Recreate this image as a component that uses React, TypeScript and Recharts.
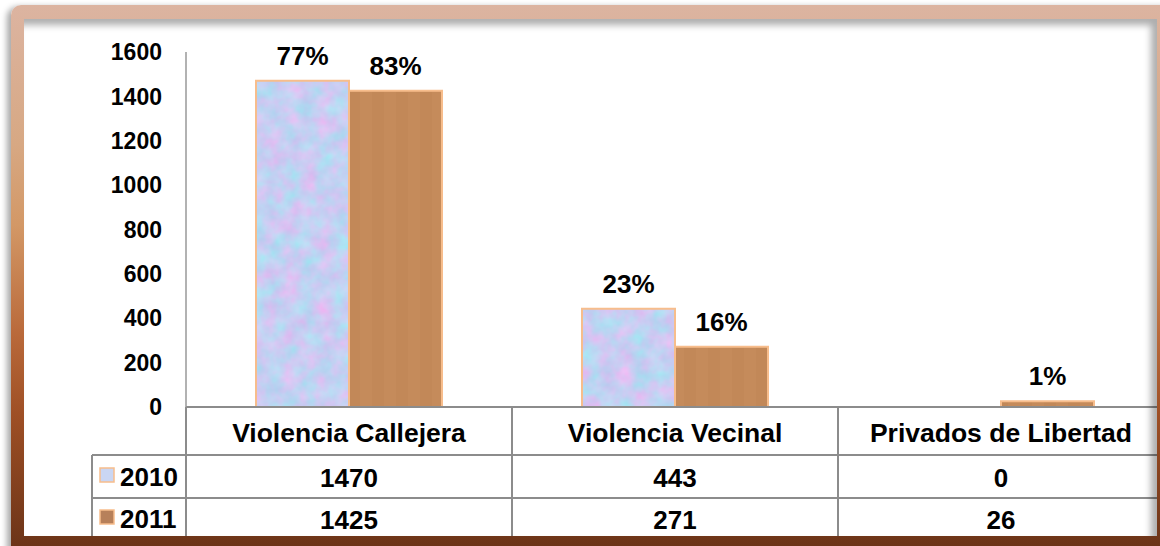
import React from "react";
import { BarChart, Bar, XAxis, YAxis, LabelList } from "recharts";

const categories = ["Violencia Callejera", "Violencia Vecinal", "Privados de Libertad"];
const values2010 = [1470, 443, 0];
const values2011 = [1425, 271, 26];
const pct2010 = ["77%", "23%", ""];
const pct2011 = ["83%", "16%", "1%"];
const years = ["2010", "2011"];
const yTicks = [0, 200, 400, 600, 800, 1000, 1200, 1400, 1600];

const data = categories.map((name, i) => ({
  name,
  v2010: values2010[i],
  v2011: values2011[i],
  p2010: pct2010[i],
  p2011: pct2011[i],
}));

const CHART_W = 1170;
const CHART_H = 546;
const MARGIN = { top: 52, right: 6, left: 106, bottom: 9 };
const Y_W = 80;
const X_H = 130;
const BAND = (CHART_W - MARGIN.left - MARGIN.right - Y_W) / categories.length;

const FONT = '"Liberation Sans", Arial, sans-serif';
const GRID = "#8c8c8c";
const EDGE = "#f7bd8c";
const BROWN = "#c58b5b";

const txt = {
  fontFamily: FONT,
  fontWeight: 700,
  fill: "#000",
} as const;

function TableTick(props: any) {
  const { x, y, index } = props;
  const i = index as number;
  const left = x - BAND / 2;
  const right = x + BAND / 2;
  const rows = [values2010[i], values2011[i]];
  return (
    <g>
      <line x1={left} x2={left} y1={y} y2={y + 140} stroke={GRID} strokeWidth={2} />
      {i === categories.length - 1 && (
        <line x1={right} x2={right} y1={y} y2={y + 140} stroke={GRID} strokeWidth={2} />
      )}
      <line x1={left} x2={right} y1={y + 48} y2={y + 48} stroke={GRID} strokeWidth={2} />
      <line x1={left} x2={right} y1={y + 91} y2={y + 91} stroke={GRID} strokeWidth={2} />
      <text {...txt} x={x} y={y + 26} fontSize={26.5} textAnchor="middle" dominantBaseline="central">
        {categories[i]}
      </text>
      {rows.map((v, r) => (
        <text key={r} {...txt} x={x} y={y + 71 + r * 42} fontSize={26} textAnchor="middle" dominantBaseline="central">
          {v}
        </text>
      ))}
      {i === 0 && (
        <g>
          <line x1={92} x2={92} y1={y + 48} y2={y + 140} stroke={GRID} strokeWidth={2} />
          <line x1={92} x2={left} y1={y + 48} y2={y + 48} stroke={GRID} strokeWidth={2} />
          <line x1={92} x2={left} y1={y + 91} y2={y + 91} stroke={GRID} strokeWidth={2} />
          {years.map((yr, r) => (
            <g key={yr}>
              <rect
                x={100}
                y={y + 61 + r * 42}
                width={14}
                height={14}
                fill={r === 0 ? "#cad6f3" : "#b7805a"}
                stroke={EDGE}
                strokeWidth={1.5}
              />
              <text {...txt} x={120} y={y + 70 + r * 42} fontSize={26} dominantBaseline="central">
                {yr}
              </text>
            </g>
          ))}
        </g>
      )}
    </g>
  );
}

export default function App() {
  return (
    <div
      style={{
        position: "fixed",
        left: 0,
        top: 0,
        width: 1160,
        height: 546,
        background: "#fff",
        overflow: "hidden",
      }}
    >
      <div
        style={{
          position: "absolute",
          left: 11,
          top: 5,
          width: 1170,
          height: 560,
          borderRadius: 10,
          background:
            "linear-gradient(to bottom, #dcb4a1 0px, #d7a883 140px, #d39866 220px, #b9693a 330px, #9e4f25 410px, #6c3418 541px)",
          boxShadow: "-4px 2px 6px rgba(0,0,0,0.35)",
        }}
      />
      <div
        style={{
          position: "absolute",
          left: 24,
          top: 19,
          width: 1133,
          height: 517,
          background: "#fff",
          overflow: "hidden",
        }}
      >
        <div style={{ position: "absolute", left: -24, top: -19 }}>
          <BarChart
            width={CHART_W}
            height={CHART_H}
            data={data}
            margin={MARGIN}
            barCategoryGap={70}
            barGap={0}
            style={{ fontFamily: FONT }}
          >
            <defs>
              <filter id="noise" x="0" y="0" width="100%" height="100%" colorInterpolationFilters="sRGB">
                <feTurbulence type="fractalNoise" baseFrequency="0.06" numOctaves="3" seed="4" />
                <feColorMatrix
                  type="matrix"
                  values="0.35 -0.08 0 0 0.64  -0.22 -0.08 0 0 0.96  0 -0.04 0 0 0.97  0 0 0 0 1"
                />
              </filter>
              <pattern id="mottle" width={CHART_W} height={CHART_H} patternUnits="userSpaceOnUse">
                <rect width={CHART_W} height={CHART_H} filter="url(#noise)" />
              </pattern>
              <pattern id="brownStripes" width="24" height="10" patternUnits="userSpaceOnUse">
                <rect width="24" height="10" fill={BROWN} />
                <rect x="12" width="12" height="10" fill="#c28858" />
              </pattern>
            </defs>
            <XAxis
              dataKey="name"
              height={X_H}
              interval={0}
              tickLine={false}
              tickSize={0}
              tickMargin={0}
              axisLine={{ stroke: GRID, strokeWidth: 2 }}
              tick={<TableTick />}
            />
            <YAxis
              width={Y_W}
              domain={[0, 1600]}
              ticks={yTicks}
              interval={0}
              tickLine={false}
              tickSize={6}
              tickMargin={18}
              axisLine={{ stroke: "#999", strokeWidth: 1.5 }}
              tick={{ fontSize: 23, fontWeight: 700, fill: "#000", fontFamily: FONT }}
            />
            <Bar
              dataKey="v2010"
              name="2010"
              fill="url(#mottle)"
              stroke={EDGE}
              strokeWidth={2}
              isAnimationActive={false}
            >
              <LabelList dataKey="p2010" position="top" offset={16} fill="#000" fontSize={26} fontWeight={700} fontFamily={FONT} />
            </Bar>
            <Bar
              dataKey="v2011"
              name="2011"
              fill="url(#brownStripes)"
              stroke={EDGE}
              strokeWidth={2}
              isAnimationActive={false}
            >
              <LabelList dataKey="p2011" position="top" offset={16} fill="#000" fontSize={26} fontWeight={700} fontFamily={FONT} />
            </Bar>
          </BarChart>
        </div>
        <div
          style={{
            position: "absolute",
            inset: 0,
            boxShadow: "inset -6px 6px 7px rgba(0,0,0,0.32)",
            pointerEvents: "none",
          }}
        />
      </div>
    </div>
  );
}
